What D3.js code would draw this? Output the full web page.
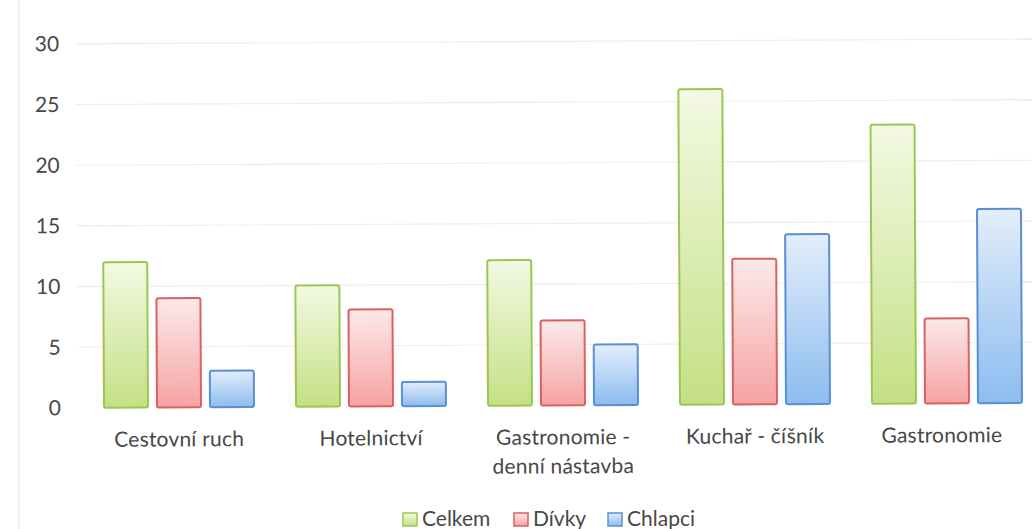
<!DOCTYPE html>
<html><head><meta charset="utf-8">
<script src="https://cdn.jsdelivr.net/npm/d3@7"></script>
<style>
html,body{margin:0;padding:0;background:#fff;}
svg{display:block;font-family:Lato,"Open Sans",sans-serif;}
</style></head>
<body>
<svg id="chart" width="1032" height="529"></svg>
<script>
const categories = [["Cestovní ruch"], ["Hotelnictví"], ["Gastronomie -", "denní nástavba"], ["Kuchař - číšník"], ["Gastronomie"]];
const seriesNames = ["Celkem", "Dívky", "Chlapci"];
const celkem = [12, 10, 12, 26, 23];
const divky = [9, 8, 7, 12, 7];
const chlapci = [3, 2, 5, 14, 16];
const yTicks = [0, 5, 10, 15, 20, 25, 30];

const seriesValues = [celkem, divky, chlapci];
const styles = [
  {top:"#f3f9e3", bottom:"#c4e084", stroke:"#9cc653"},
  {top:"#fde9e9", bottom:"#f5a3a3", stroke:"#d8625f"},
  {top:"#e3eefa", bottom:"#8cbcf0", stroke:"#5a8fd5"}
];

const svg = d3.select("#chart");
const defs = svg.append("defs");
styles.forEach((s,i)=>{
  const g = defs.append("linearGradient").attr("id","grad"+i).attr("x1",0).attr("y1",0).attr("x2",0).attr("y2",1);
  g.append("stop").attr("offset","0%").attr("stop-color",s.top);
  g.append("stop").attr("offset","100%").attr("stop-color",s.bottom);
});

// faint left border from scan
svg.append("line").attr("x1",19).attr("x2",19).attr("y1",0).attr("y2",529).attr("stroke","#f1f1f1").attr("stroke-width",2);

// slight skew of the scanned page
const root = svg.append("g").attr("transform","rotate(-0.3, 61, 408)");

const x0 = d3.scaleBand().domain(d3.range(categories.length)).range([83, 1043]).paddingInner(0).paddingOuter(0);
const x1 = d3.scaleBand().domain(d3.range(3)).range([-75, 75]).paddingInner(0.17);
const y = d3.scaleLinear().domain([0, 30]).range([408, 44]);

// gridlines
root.append("g").selectAll("line").data(yTicks.filter(t=>t>0)).join("line")
  .attr("x1", 78).attr("x2", 1040)
  .attr("y1", d=>y(d)).attr("y2", d=>y(d))
  .attr("stroke", "#eeeeee").attr("stroke-width", 1.2);

// y axis
const yAxis = d3.axisLeft(y).tickValues(yTicks).tickSize(0).tickPadding(0);
const ya = root.append("g").attr("transform","translate(61,0)").call(yAxis);
ya.select(".domain").remove();
ya.selectAll("text").attr("font-size", 21).attr("fill", "#474747").attr("font-family","Lato, sans-serif");

// bars
const groups = root.append("g").selectAll("g").data(categories).join("g")
  .attr("transform", (d,i)=>`translate(${x0(i)+x0.bandwidth()/2},0)`);
groups.selectAll("rect").data((d,i)=>seriesValues.map((v,s)=>({s, v:v[i]}))).join("rect")
  .attr("x", d=>x1(d.s)).attr("width", x1.bandwidth())
  .attr("y", d=>y(d.v)).attr("height", d=>y(0)-y(d.v))
  .attr("rx", 2)
  .attr("fill", d=>`url(#grad${d.s})`)
  .attr("stroke", d=>styles[d.s].stroke).attr("stroke-width", 2);

// category labels (kept inside the visible chart area on the right)
const maxRight = 1002;
groups.each(function(d,i){
  const cx = x0(i)+x0.bandwidth()/2;
  const t = d3.select(this).append("text").attr("text-anchor","middle")
    .attr("font-size", 21).attr("fill","#474747").attr("letter-spacing", 0.2);
  d.forEach((line,k)=>{
    t.append("tspan").attr("x",0).attr("y", 447 + k*29).text(line);
  });
  const w = t.node().getBBox().width;
  const over = cx + w/2 - maxRight;
  if (over > 0) t.selectAll("tspan").attr("x", -over);
});

// legend
const legend = svg.append("g").attr("transform","translate(403,526)");
const legendX = [0, 111, 205];
seriesNames.forEach((n,i)=>{
  const g = legend.append("g").attr("transform",`translate(${legendX[i]},0)`);
  g.append("rect").attr("x",0).attr("y",-13).attr("width",14).attr("height",13)
    .attr("fill",`url(#grad${i})`).attr("stroke",styles[i].stroke).attr("stroke-width",1.5);
  g.append("text").attr("x",19).attr("y",0).attr("font-size",21).attr("fill","#474747").text(n);
});
</script>
</body></html>
